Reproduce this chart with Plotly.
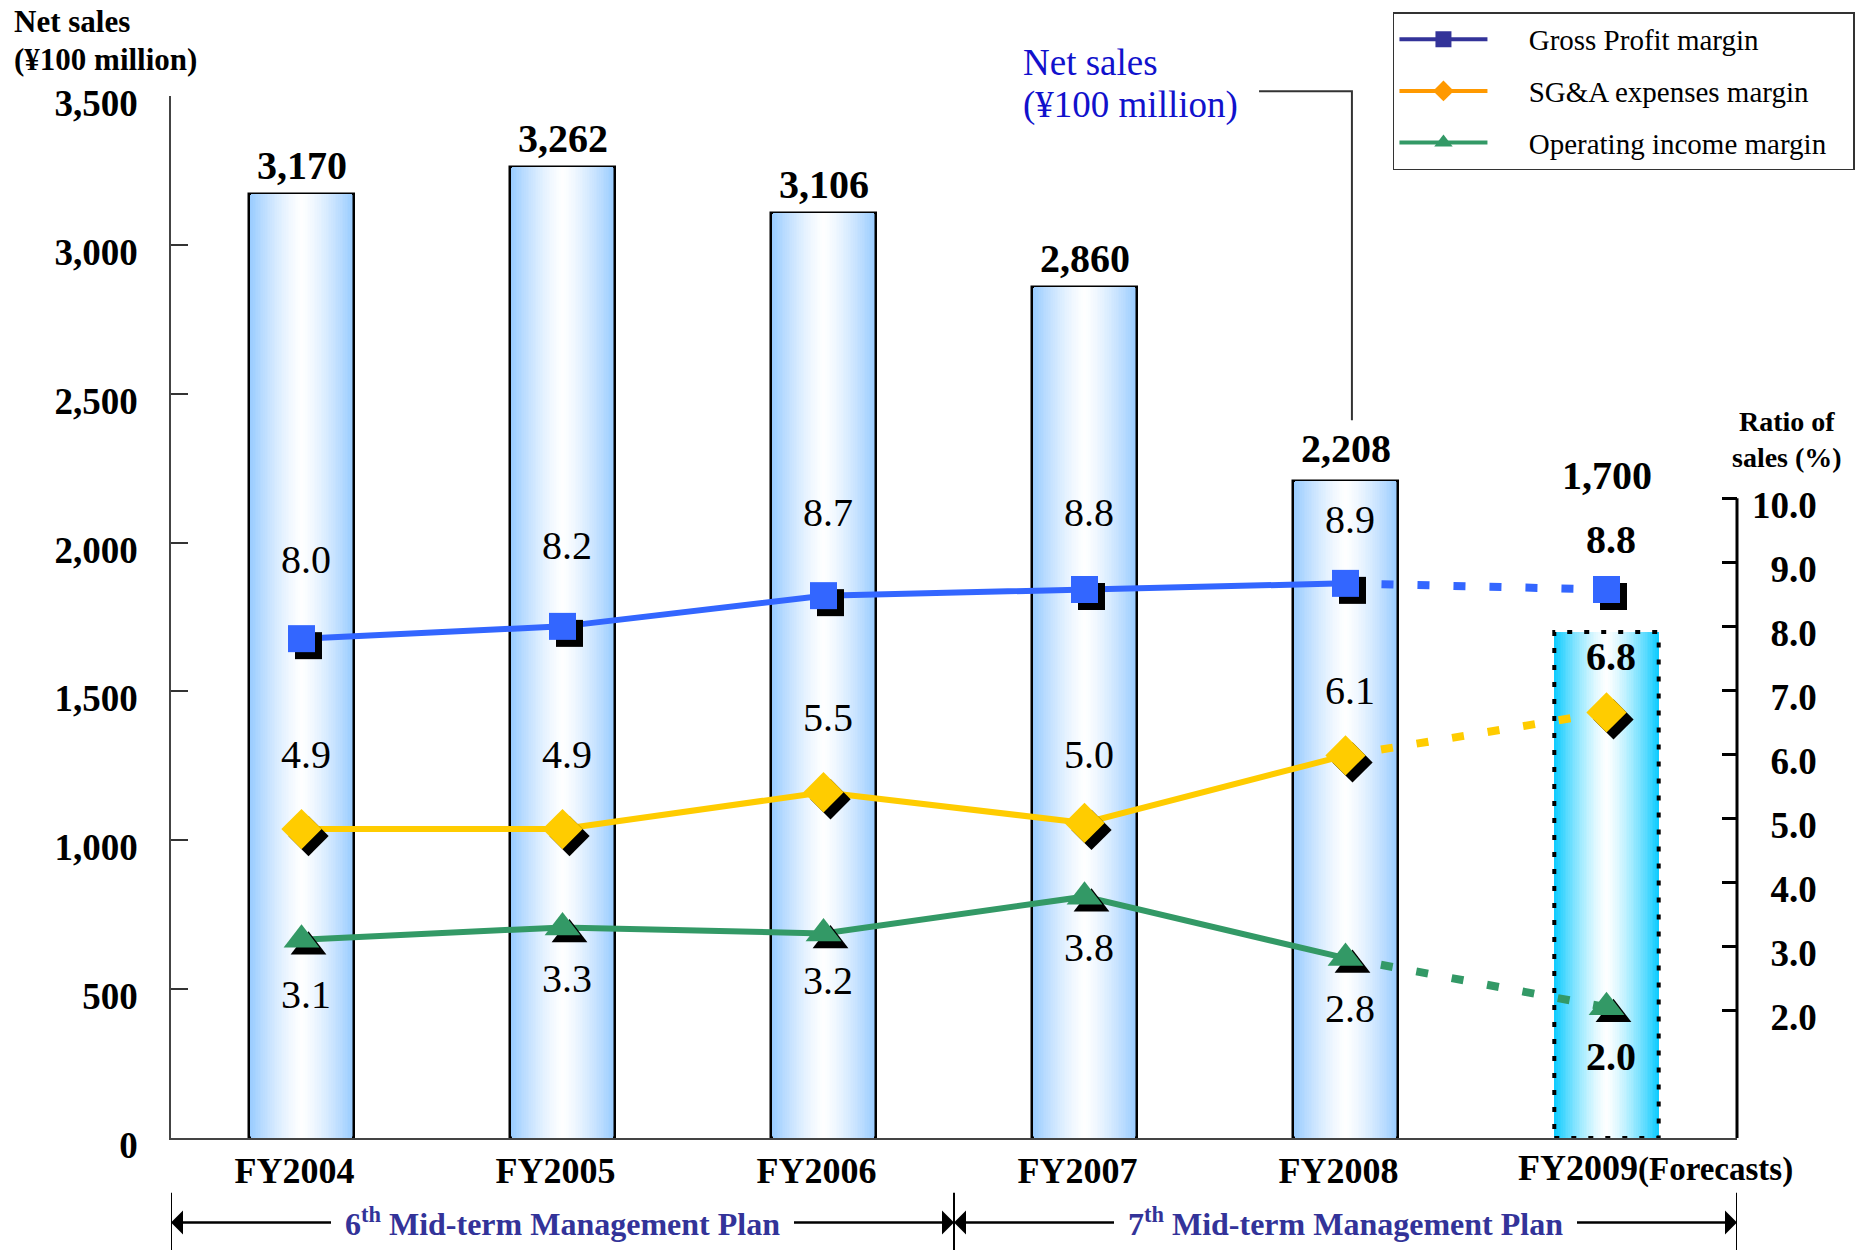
import plotly.graph_objects as go

# ---------------- data ----------------
years = ["FY2004", "FY2005", "FY2006", "FY2007", "FY2008", "FY2009"]
net_sales = [3170, 3262, 3106, 2860, 2208, 1700]          # ¥100 million
gross_profit_margin = [8.0, 8.2, 8.7, 8.8, 8.9, 8.8]      # % of sales
sga_margin = [4.9, 4.9, 5.5, 5.0, 6.1, 6.8]
operating_margin = [3.1, 3.3, 3.2, 3.8, 2.8, 2.0]
forecast_index = 5                                        # FY2009 is a forecast
sales_ticks = [0, 500, 1000, 1500, 2000, 2500, 3000, 3500]
ratio_ticks = [2, 3, 4, 5, 6, 7, 8, 9, 10]
plans = ["6<sup>th</sup> Mid-term Management Plan",
         "7<sup>th</sup> Mid-term Management Plan"]
plan_spans = [(-0.5, 2.5), (2.5, 5.5)]

# ---------------- geometry / style ----------------
W, H = 1865, 1250
ML, MR, MT, MB = 171, 128, 96, 112
PW, PH = W - ML - MR, H - MT - MB
X_PX = PW / len(years)               # px per category
RATIO_PX = 63.97                     # px per 1% on the drawn ratio scale
LINE_PX, LINE_ZERO = 61.43, 7.9      # px per 1% for the margin lines, zero offset

SERIF = "Liberation Serif, Times New Roman, serif"
BAR_W = 0.40
BAR_EDGE = "#99CCFF"
FORECAST_EDGE = "#11CCFF"
N_LAYERS = 30
NBSP = "\u00a0"

series = [
    dict(name="Gross Profit margin", vals=gross_profit_margin, color="#3366FF",
         legend_color="#333399", symbol="square", size=27,
         dy=[79, 81, 83, 77, 64, 50]),
    dict(name="SG&A expenses margin", vals=sga_margin, color="#FFCC00",
         legend_color="#FF9900", symbol="diamond", size=31,
         dy=[75, 75, 75, 68, 65, 56]),
    dict(name="Operating income margin", vals=operating_margin, color="#339966",
         legend_color="#339966", symbol="triangle-up", size=31,
         dy=[-55, -51, -47, -51, -50, -49]),
]


def mix(c_hex, t):
    """Blend white toward c_hex by fraction t."""
    r, g, b = (int(c_hex[i:i + 2], 16) for i in (1, 3, 5))
    return "rgb(%d,%d,%d)" % (round(255 + (r - 255) * t),
                              round(255 + (g - 255) * t),
                              round(255 + (b - 255) * t))


xs = list(range(len(years)))
fig = go.Figure()

# ---------------- bars: layered horizontal gradient ----------------
edges = [FORECAST_EDGE if i == forecast_index else BAR_EDGE for i in xs]
for k in range(N_LAYERS):
    f = 1 - k / N_LAYERS
    t = f ** 1.35
    fig.add_trace(go.Bar(
        x=xs, y=net_sales, width=BAR_W * f,
        marker=dict(color=[mix(e, t) for e in edges],
                    line=dict(color="black",
                              width=[0 if (k > 0 or i == forecast_index) else 2.5
                                     for i in xs])),
        showlegend=False, hoverinfo="skip", yaxis="y"))

# ---------------- margin lines ----------------
SHADOW_DX = 7 / X_PX
SHADOW_DY = 7 / LINE_PX
for s in series:
    v = s["vals"]
    fig.add_trace(go.Scatter(
        x=xs[:forecast_index], y=v[:forecast_index], yaxis="y3", mode="lines",
        line=dict(color=s["color"], width=6), showlegend=False, hoverinfo="skip"))
    fig.add_trace(go.Scatter(
        x=xs[forecast_index - 1:], y=v[forecast_index - 1:], yaxis="y3", mode="lines",
        line=dict(color=s["color"], width=8, dash="12px,24px"),
        showlegend=False, hoverinfo="skip"))
for s in series:
    v = s["vals"]
    fig.add_trace(go.Scatter(
        x=[x + SHADOW_DX for x in xs], y=[y - SHADOW_DY for y in v], yaxis="y3",
        mode="markers", marker=dict(symbol=s["symbol"], size=s["size"], color="black"),
        showlegend=False, hoverinfo="skip"))
    fig.add_trace(go.Scatter(
        x=xs, y=v, yaxis="y3", mode="markers",
        marker=dict(symbol=s["symbol"], size=s["size"], color=s["color"]),
        showlegend=False, name=s["name"]))

# legend entries
for j, s in enumerate(series):
    pad_right = NBSP * (3 if j == 2 else 0)
    fig.add_trace(go.Scatter(
        x=[None], y=[None], mode="lines+markers",
        name=NBSP * 5 + s["name"] + pad_right, legendgroup=f"g{j}",
        line=dict(color=s["legend_color"], width=4),
        marker=dict(symbol=s["symbol"], size=16, color=s["legend_color"])))

# ---------------- annotations ----------------
ann = []
sales_label_dy = [4, 4, 4, 4, 8, 132]
for i, v in enumerate(net_sales):
    ann.append(dict(x=i, y=v, xref="x", yref="y", text=f"{v:,}", showarrow=False,
                    yanchor="bottom", yshift=sales_label_dy[i],
                    font=dict(family=SERIF, size=40, color="black", weight="bold")))

for s in series:
    for i, v in enumerate(s["vals"]):
        bold = i == forecast_index
        ann.append(dict(x=i, y=v, xref="x", yref="y3", text=f"{v:.1f}", showarrow=False,
                        yanchor="middle", yshift=s["dy"][i], xshift=4,
                        font=dict(family=SERIF, size=40, color="black",
                                  weight="bold" if bold else "normal")))

# FY2009 category label with the forecast note
ann.append(dict(x=forecast_index, y=-0.029, xref="x", yref="paper",
                text=years[forecast_index] + "<span style='font-size:33px'>(Forecasts)</span>",
                showarrow=False, xanchor="left", yanchor="middle", xshift=-91,
                font=dict(family=SERIF, size=36, color="black", weight="bold")))

# left axis title (two lines)
for txt, yp in (("Net sales", 1.0717), ("(¥100 million)", 1.0352)):
    ann.append(dict(x=-0.1015, y=yp, xref="paper", yref="paper", xanchor="left",
                    yanchor="middle", showarrow=False, text=txt,
                    font=dict(family=SERIF, size=31, color="black", weight="bold")))
# right axis title
ann.append(dict(x=1.0319, y=0.6705, xref="paper", yref="paper", xanchor="center",
                yanchor="middle", align="center", showarrow=False,
                text="Ratio of<br>sales (%)",
                font=dict(family=SERIF, size=28, color="black", weight="bold")))

# callout for the bars (two lines)
for txt, yp in (("Net sales", 1.0323), ("(¥100 million)", 0.9911)):
    ann.append(dict(x=0.5428, y=yp, xref="paper", yref="paper", xanchor="left",
                    yanchor="middle", showarrow=False, text=txt,
                    font=dict(family=SERIF, size=37, color="#1111CC")))

# mid-term plan brackets
PLAN_Y = -0.081
TEXT_HALF = 230
for label, (a, b) in zip(plans, plan_spans):
    mid = (a + b) / 2
    half_px = (b - a) / 2 * X_PX
    ann.append(dict(x=mid, y=PLAN_Y, xref="x", yref="paper", text=label,
                    showarrow=False, yanchor="middle",
                    font=dict(family=SERIF, size=32, color="#333399", weight="bold")))
    ann.append(dict(x=a, y=PLAN_Y, xref="x", yref="paper", text="", showarrow=True,
                    ax=half_px - TEXT_HALF, ay=0, arrowhead=1, arrowsize=1.6,
                    arrowwidth=2.5, arrowcolor="black"))
    ann.append(dict(x=b, y=PLAN_Y, xref="x", yref="paper", text="", showarrow=True,
                    ax=-(half_px - TEXT_HALF), ay=0, arrowhead=1, arrowsize=1.6,
                    arrowwidth=2.5, arrowcolor="black"))

# ---------------- shapes ----------------
shapes = []
# right ratio axis line
shapes.append(dict(type="line", xref="paper", yref="y2", x0=1, x1=1,
                   y0=0, y1=max(ratio_ticks), line=dict(color="black", width=3)))
# forecast bar outline
shapes.append(dict(type="rect", xref="x", yref="y",
                   x0=forecast_index - BAR_W / 2, x1=forecast_index + BAR_W / 2,
                   y0=0, y1=net_sales[forecast_index],
                   line=dict(color="black", width=4, dash="5px,12px")))
# plan separators
for xv in (-0.5, 2.5, 5.5):
    shapes.append(dict(type="line", xref="x", yref="paper", x0=xv, x1=xv,
                       y0=-0.0525, y1=-0.12, line=dict(color="black", width=2)))
# callout connector
shapes.append(dict(type="path", xref="paper", yref="paper",
                   path="M 0.6948,1.0045 H 0.7541 V 0.6888",
                   line=dict(color="#333333", width=2)))

fig.update_layout(
    width=W, height=H,
    margin=dict(l=ML, r=MR, t=MT, b=MB, autoexpand=False),
    plot_bgcolor="white", paper_bgcolor="white",
    barmode="overlay", bargap=0,
    font=dict(family=SERIF, color="black"),
    xaxis=dict(range=[-0.5, len(years) - 0.5], tickvals=xs,
               ticktext=years[:forecast_index] + [""],
               showgrid=False, zeroline=False, showline=True,
               linecolor="#444444", linewidth=1.5, ticks="",
               ticklabelshift=-7, ticklabelstandoff=0,
               tickfont=dict(family=SERIF, size=36, color="black", weight="bold")),
    yaxis=dict(range=[0, 3500], tickvals=sales_ticks, tickformat=",",
               showgrid=False, zeroline=False, showline=True,
               linecolor="#444444", linewidth=1.5,
               ticks="inside", ticklen=17, tickwidth=1.5, tickcolor="#333333",
               ticklabelstandoff=24, ticklabelshift=7,
               tickfont=dict(family=SERIF, size=37, color="black", weight="bold")),
    yaxis2=dict(overlaying="y", side="right", range=[0, PH / RATIO_PX],
                tickvals=ratio_ticks,
                ticktext=[("\u2007" if v < 10 else "") + f"{v:.1f}" for v in ratio_ticks],
                showgrid=False, zeroline=False, showline=False,
                ticks="inside", ticklen=15, tickwidth=2.5, tickcolor="black",
                ticklabelstandoff=14, ticklabelshift=7,
                tickfont=dict(family=SERIF, size=37, color="black", weight="bold")),
    yaxis3=dict(overlaying="y", side="right", visible=False,
                range=[-LINE_ZERO / LINE_PX, (PH - LINE_ZERO) / LINE_PX]),
    legend=dict(x=0.7803, y=1.0803, xanchor="left", yanchor="top",
                bgcolor="white", bordercolor="#333333", borderwidth=1.5,
                itemwidth=88, tracegroupgap=11,
                font=dict(family=SERIF, size=29, color="black")),
    annotations=ann,
    shapes=shapes,
)

fig.write_html("out.html")
